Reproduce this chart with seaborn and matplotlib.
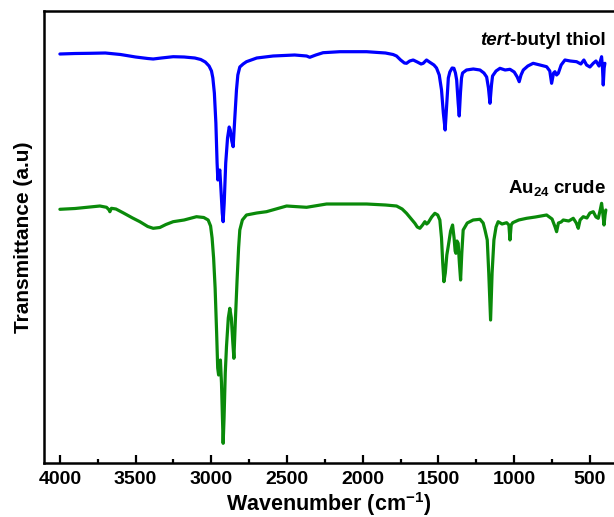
import numpy as np
import pandas as pd
import matplotlib
matplotlib.use("Agg")
import matplotlib.pyplot as plt
import seaborn as sns

# ---- data (arbitrary transmittance units) ----
thiol_wn = [4000, 3900, 3800, 3700, 3600, 3500, 3420, 3384, 3330, 3252, 3180, 3109, 3070,
            3040, 3015, 2999, 2990, 2980, 2970, 2962, 2957, 2950, 2944, 2937, 2928, 2922,
            2915, 2905, 2893, 2882, 2875, 2865, 2856, 2845, 2834, 2825, 2812, 2790, 2768,
            2700, 2592, 2450, 2371, 2350, 2310, 2262, 2151, 1975, 1850, 1800, 1777, 1750,
            1725, 1711, 1690, 1667, 1640, 1615, 1601, 1579, 1560, 1530, 1513, 1495, 1480,
            1468, 1456, 1445, 1435, 1425, 1410, 1398, 1388, 1380, 1370, 1363, 1355, 1348,
            1341, 1315, 1270, 1226, 1200, 1182, 1170, 1160, 1150, 1143, 1120, 1094, 1060,
            1028, 1000, 980, 967, 955, 940, 910, 875, 830, 786, 765, 753, 740, 731, 720,
            709, 690, 665, 630, 588, 560, 540, 522, 500, 478, 460, 440, 423, 417, 412,
            406, 401]
thiol_T = [409, 409.5, 409.7, 410, 408.5, 406, 404.5, 404, 405, 406.3, 406, 405, 403.5,
           401, 397, 392, 385, 370, 340, 300, 283, 290, 293, 275, 250, 241.3,
           260, 300, 325, 336, 333, 322, 316.3, 345, 373, 388, 396, 399, 401.3,
           405, 407, 408, 407, 405.7, 408, 410.3, 411.3, 411.3, 410, 408.5, 407, 403,
           400, 399.7, 402, 403, 401, 399, 399.7, 403, 401, 398, 395, 388, 373,
           350, 333, 360, 385, 391, 395, 394.7, 390, 383, 360, 347, 370, 385,
           390, 393, 394, 393, 390, 386, 375, 359.7, 378, 387, 392, 394.7, 393,
           393.7, 391, 386, 381.3, 388, 393, 397, 399.7, 398, 396.3, 392, 379.7, 390, 391.3, 388,
           389.7, 398, 403, 402, 401.3, 399, 403, 398, 396, 399.7, 402, 397, 406.3, 395, 378,
           395, 399.7]

crude_wn = [4000, 3900, 3800, 3736, 3692, 3675, 3670, 3660, 3630, 3580, 3520, 3472, 3420,
            3384, 3340, 3300, 3252, 3180, 3098, 3050, 3021, 3005, 2995, 2985, 2975, 2965,
            2958, 2952, 2945, 2940, 2933, 2927, 2922, 2916, 2908, 2900, 2888, 2878, 2868,
            2858, 2851, 2842, 2830, 2820, 2812, 2795, 2768, 2700, 2636, 2550, 2503, 2371,
            2239, 2151, 1975, 1850, 1777, 1740, 1711, 1680, 1656, 1640, 1623, 1605, 1590,
            1578, 1568, 1545, 1524, 1505, 1491, 1480, 1472, 1464, 1455, 1445, 1436, 1420,
            1407, 1397, 1390, 1385, 1378, 1370, 1362, 1354, 1346, 1337, 1310, 1271, 1226,
            1205, 1193, 1178, 1168, 1156, 1146, 1134, 1120, 1106, 1080, 1050, 1035, 1028,
            1020, 1010, 970, 918, 860, 786, 750, 730, 720, 708, 690, 676, 640, 610, 590,
            577, 565, 544, 520, 500, 478, 460, 445, 432, 423, 415, 407, 400, 395]
crude_T = [253.7, 254.5, 256, 257, 255.7, 253, 251.3, 254.7, 254, 250, 245, 241.3, 236.5,
           234.7, 235.5, 238.5, 241.3, 243, 246.3, 245.5, 243, 237, 225, 205, 175, 130,
           95, 88, 95, 103, 80, 45, 19.7, 45, 90, 116.3, 145, 154.7, 145,
           120, 104.7, 140, 183, 215, 233, 243, 248, 250, 251.3, 255, 257, 255.7,
           259, 259, 259, 258, 257, 254, 249.7, 244, 239.7, 236, 234.7, 238, 241.3,
           239, 240.3, 246, 249.7, 248, 243, 225, 200, 181.3, 190, 208, 216.3, 232,
           238, 225, 212, 209.7, 222, 219.7, 200, 183, 210, 233, 240, 243, 243.7,
           240, 233, 223, 190, 143, 190, 223, 236, 241.3, 239, 240.3, 238, 223,
           238, 240.3, 243, 244.7, 246, 248, 244, 236, 231.3, 240, 241, 243, 242, 244.7, 240,
           234.7, 243, 246.3, 245, 250, 251.3, 246, 244.7, 253, 259.7, 250, 238, 248, 253]

df = pd.concat([
    pd.DataFrame({"wn": thiol_wn, "T": thiol_T, "sample": "thiol"}),
    pd.DataFrame({"wn": crude_wn, "T": crude_T, "sample": "crude"}),
])

sns.set_style("white")
plt.rcParams["font.family"] = ["Liberation Sans", "DejaVu Sans"]
plt.rcParams["font.weight"] = "bold"
plt.rcParams["text.color"] = "black"
plt.rcParams["axes.labelcolor"] = "black"
plt.rcParams["xtick.color"] = "black"
plt.rcParams["mathtext.fontset"] = "custom"
plt.rcParams["mathtext.rm"] = "Liberation Sans:bold"
plt.rcParams["mathtext.bf"] = "Liberation Sans:bold"
plt.rcParams["mathtext.it"] = "Liberation Sans:bold"
plt.rcParams["mathtext.default"] = "rm"

fig = plt.figure(figsize=(6.14, 5.17), dpi=100)
ax = fig.add_axes([44 / 614, 54 / 517, 1 - 44 / 614, 452 / 517])

sns.lineplot(data=df, x="wn", y="T", hue="sample", sort=False,
             palette={"thiol": "#0000ff", "crude": "#0a8a0a"},
             linewidth=2.3, legend=False, ax=ax, estimator=None)

ax.set_xlim(4105, 341)
ax.set_ylim(0, 452)
ax.set_yticks([])
ax.set_xticks([4000, 3500, 3000, 2500, 2000, 1500, 1000, 500])
ax.set_xticks(np.arange(3750, 300, -500), minor=True)
ax.tick_params(axis="x", which="major", direction="in", length=6, width=1.6,
               labelsize=14, pad=6, bottom=True, colors="black")
ax.tick_params(axis="x", which="minor", direction="in", length=3, width=1.6, bottom=True)
for lab in ax.get_xticklabels():
    lab.set_fontweight("bold")
for s in ["left", "bottom", "top"]:
    ax.spines[s].set_linewidth(1.8)
    ax.spines[s].set_color("black")
ax.spines["right"].set_visible(False)

ax.set_xlabel(r"Wavenumber (cm$^{\mathrm{-1}}$)", fontsize=15.5, fontweight="bold", labelpad=1)
ax.set_ylabel("Transmittance (a.u)", fontsize=15, fontweight="bold", labelpad=8)

# sample labels
t1 = ax.text(394, 418, "-butyl thiol", ha="right", va="baseline", fontsize=13.5,
             fontweight="bold")
fig.canvas.draw()
w = t1.get_window_extent().width * 72 / fig.dpi
ax.annotate("tert", xy=(394, 418), xytext=(-w, 0), textcoords="offset points",
            ha="right", va="baseline", fontsize=13.5, fontweight="bold", fontstyle="italic")
ax.text(396, 270, r"Au$_{\mathrm{24}}$ crude", ha="right", va="baseline", fontsize=13.5,
        fontweight="bold")

fig.savefig("out.png", dpi=100)
